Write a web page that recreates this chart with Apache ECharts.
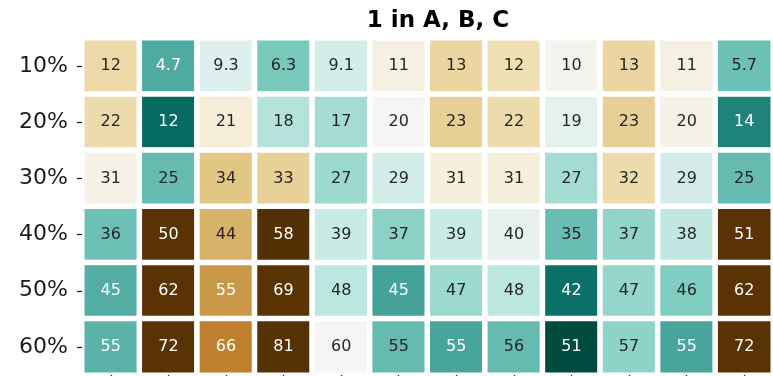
<!DOCTYPE html>
<html>
<head>
<meta charset="utf-8">
<script src="https://cdn.jsdelivr.net/npm/echarts@6/dist/echarts.min.js"></script>
<style>
  html, body { margin: 0; padding: 0; background: #fff; }
  #chart { width: 773px; height: 376px; }
</style>
</head>
<body>
<div id="chart"></div>
<script>
// Row and column categories
const rowLabels = ['10%', '20%', '30%', '40%', '50%', '60%'];
const colLabels = ['1', '2', '3', '4', '5', '6', '7', '8', '9', '10', '11', '12'];

// Annotated values, one array per row
const row10 = [12, 4.7, 9.3, 6.3, 9.1, 11, 13, 12, 10, 13, 11, 5.7];
const row20 = [22, 12, 21, 18, 17, 20, 23, 22, 19, 23, 20, 14];
const row30 = [31, 25, 34, 33, 27, 29, 31, 31, 27, 32, 29, 25];
const row40 = [36, 50, 44, 58, 39, 37, 39, 40, 35, 37, 38, 51];
const row50 = [45, 62, 55, 69, 48, 45, 47, 48, 42, 47, 46, 62];
const row60 = [55, 72, 66, 81, 60, 55, 55, 56, 51, 57, 55, 72];

// Relative score that drives the cell colour (-1 low, +1 high)
const shade10 = [0.28, -0.53, -0.10, -0.42, -0.15, 0.08, 0.30, 0.24, 0.03, 0.30, 0.08, -0.45];
const shade20 = [0.27, -0.78, 0.12, -0.25, -0.30, 0.00, 0.33, 0.27, -0.08, 0.33, 0.06, -0.68];
const shade30 = [0.06, -0.47, 0.38, 0.32, -0.32, -0.15, 0.10, 0.10, -0.30, 0.27, -0.14, -0.47];
const shade40 = [-0.45, 0.98, 0.45, 1.00, -0.19, -0.37, -0.19, -0.06, -0.46, -0.35, -0.22, 0.98];
const shade50 = [-0.52, 0.98, 0.53, 0.98, -0.23, -0.56, -0.32, -0.23, -0.76, -0.34, -0.40, 0.98];
const shade60 = [-0.50, 0.98, 0.60, 0.99, 0.00, -0.47, -0.55, -0.47, -0.93, -0.36, -0.55, 0.98];

const valueRows = [row10, row20, row30, row40, row50, row60];
const shadeRows = [shade10, shade20, shade30, shade40, shade50, shade60];

// Brown-teal diverging palette, teal for low scores and brown for high
const palette = ['#003c30', '#01665e', '#35978f', '#80cdc1', '#c7eae5', '#f5f5f5',
                 '#f6e8c3', '#dfc27d', '#bf812d', '#8c510a', '#543005'];

function hexToRgb(h) {
  return [parseInt(h.slice(1, 3), 16), parseInt(h.slice(3, 5), 16), parseInt(h.slice(5, 7), 16)];
}
function colourAt(s) {
  const t = Math.min(1, Math.max(0, (s + 1) / 2)) * (palette.length - 1);
  const i = Math.min(palette.length - 2, Math.floor(t));
  const f = t - i;
  const a = hexToRgb(palette[i]), b = hexToRgb(palette[i + 1]);
  return a.map((c, k) => c + (b[k] - c) * f);
}
function luminance(rgb) {
  const lin = rgb.map(c => {
    c = c / 255;
    return c <= 0.03928 ? c / 12.92 : Math.pow((c + 0.055) / 1.055, 2.4);
  });
  return 0.2126 * lin[0] + 0.7152 * lin[1] + 0.0722 * lin[2];
}

const cells = [];
valueRows.forEach((vals, r) => {
  vals.forEach((v, c) => {
    const s = shadeRows[r][c];
    const dark = luminance(colourAt(s)) > 0.408;
    cells.push({
      value: [c, r, v, s],
      label: { color: dark ? '#262626' : '#ffffff' }
    });
  });
});

const chart = echarts.init(document.getElementById('chart'), null, { renderer: 'canvas' });
chart.setOption({
  animation: false,
  backgroundColor: '#ffffff',
  title: {
    text: '1 in A, B, C',
    left: 433,
    textAlign: 'center',
    top: 5,
    textStyle: { fontFamily: 'DejaVu Sans', fontWeight: 'bold', fontSize: 23, color: '#000' }
  },
  grid: { left: 82, right: -11, top: 38, bottom: 1 },
  xAxis: {
    type: 'category',
    data: colLabels,
    z: 5,
    axisLine: { show: false },
    axisTick: { show: true, length: 5, lineStyle: { color: '#222', width: 1.3 }, alignWithLabel: true },
    axisLabel: { show: false },
    splitLine: { show: false }
  },
  yAxis: {
    type: 'category',
    data: rowLabels,
    inverse: true,
    z: 5,
    axisLine: { show: false },
    axisTick: { show: true, length: 5, lineStyle: { color: '#222', width: 1.3 }, alignWithLabel: true },
    axisLabel: { margin: 14, fontFamily: 'DejaVu Sans', fontSize: 22, color: '#1a1a1a' },
    splitLine: { show: false }
  },
  visualMap: {
    show: false,
    type: 'continuous',
    dimension: 3,
    min: -1,
    max: 1,
    inRange: { color: palette }
  },
  series: [{
    type: 'heatmap',
    data: cells,
    itemStyle: { borderColor: '#ffffff', borderWidth: 5.5 },
    label: {
      show: true,
      formatter: p => String(p.value[2]),
      fontFamily: 'DejaVu Sans',
      fontSize: 16
    }
  }]
});
</script>
</body>
</html>
